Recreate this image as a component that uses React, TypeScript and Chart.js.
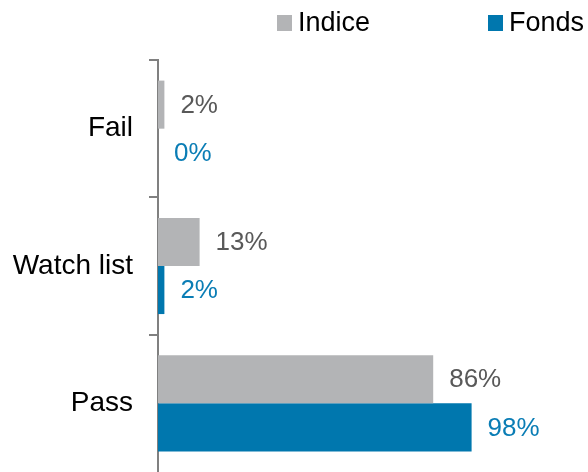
import React, { useEffect, useRef } from "react";
import { Chart, registerables } from "chart.js";

Chart.register(...registerables);

const categories = ["Fail", "Watch list", "Pass"];
const indiceValues = [2, 13, 86];
const fondsValues = [0, 2, 98];
const seriesNames = ["Indice", "Fonds"];
const barColors = ["#B3B4B6", "#0077AE"];
const labelColors = ["#595959", "#0A7DB5"];
const FONT = "'Liberation Sans', Arial, sans-serif";
const VALUE_SIZE = 26;
const AXIS_SIZE = 28;
const LEGEND_SIZE = 27;

const valueLabels = {
  id: "valueLabels",
  afterDatasetsDraw(chart: any) {
    const ctx = chart.ctx;
    ctx.save();
    ctx.font = `${VALUE_SIZE}px ${FONT}`;
    ctx.textBaseline = "middle";
    ctx.textAlign = "left";
    chart.data.datasets.forEach((ds: any, di: number) => {
      const meta = chart.getDatasetMeta(di);
      meta.data.forEach((el: any, i: number) => {
        ctx.fillStyle = labelColors[di];
        ctx.fillText(`${ds.data[i]}%`, el.x + 16, el.y + 1);
      });
    });
    ctx.restore();
  },
};

const customLegend = {
  id: "customLegend",
  afterDraw(chart: any) {
    const ctx = chart.ctx;
    ctx.save();
    ctx.font = `${LEGEND_SIZE}px ${FONT}`;
    ctx.textBaseline = "middle";
    ctx.textAlign = "left";
    const positions = [277, 488];
    const cy = 23;
    seriesNames.forEach((name, i) => {
      const x = positions[i];
      ctx.fillStyle = barColors[i];
      ctx.fillRect(x, cy - 8, 15, 16);
      ctx.fillStyle = "#000000";
      ctx.fillText(name, x + 21, cy + 1);
    });
    ctx.restore();
  },
};

export default function App() {
  const ref = useRef<HTMLCanvasElement | null>(null);
  useEffect(() => {
    if (!ref.current) return;
    const chart = new Chart(ref.current, {
      type: "bar",
      data: {
        labels: categories,
        datasets: [
          {
            label: seriesNames[0],
            data: indiceValues,
            backgroundColor: barColors[0],
            borderWidth: 0,
            categoryPercentage: 0.7,
            barPercentage: 1,
          },
          {
            label: seriesNames[1],
            data: fondsValues,
            backgroundColor: barColors[1],
            borderWidth: 0,
            categoryPercentage: 0.7,
            barPercentage: 1,
          },
        ],
      },
      options: {
        indexAxis: "y",
        animation: false,
        responsive: false,
        maintainAspectRatio: false,
        layout: { padding: { top: 60, right: 110, bottom: -2, left: 0 } },
        plugins: {
          legend: { display: false },
          tooltip: { enabled: false },
        },
        scales: {
          x: {
            display: false,
            min: 0,
            max: 100,
          },
          y: {
            afterFit(scale: any) {
              scale.width = 158;
              scale.paddingTop = 0;
              scale.paddingBottom = 0;
            },
            grid: {
              display: true,
              drawOnChartArea: false,
              drawTicks: true,
              tickLength: 9,
              color: "#808080",
              tickColor: (c: any) => (c.type === "tick" ? "#808080" : "rgba(0,0,0,0)"),
              lineWidth: 2,
              offset: true,
            },
            border: { display: true, color: "#808080", width: 2 },
            ticks: {
              color: "#000000",
              padding: 16,
              font: { family: FONT, size: AXIS_SIZE },
            },
          },
        },
      },
      plugins: [valueLabels, customLegend],
    });
    return () => chart.destroy();
  }, []);
  return (
    <div style={{ position: "fixed", left: 0, top: 0, width: 588, height: 472, background: "#fff" }}>
      <canvas ref={ref} width={588} height={472} style={{ width: 588, height: 472 }} />
    </div>
  );
}
